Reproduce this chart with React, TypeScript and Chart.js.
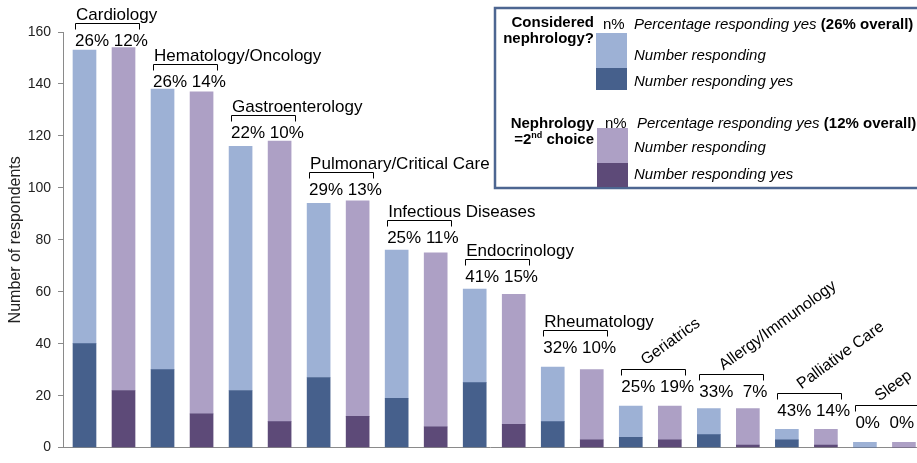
import React, { useEffect, useRef } from 'react';
import { Chart, registerables } from 'chart.js';

Chart.register(...registerables);

// ---- data ----
const specialties = [
  'Cardiology',
  'Hematology/Oncology',
  'Gastroenterology',
  'Pulmonary/Critical Care',
  'Infectious Diseases',
  'Endocrinology',
  'Rheumatology',
  'Geriatrics',
  'Allergy/Immunology',
  'Palliative Care',
  'Sleep',
];
const consideredTotal = [153, 138, 116, 94, 76, 61, 31, 16, 15, 7, 2];
const consideredYes = [40, 30, 22, 27, 19, 25, 10, 4, 5, 3, 0];
const secondTotal = [154, 137, 118, 95, 75, 59, 30, 16, 15, 7, 2];
const secondYes = [22, 13, 10, 12, 8, 9, 3, 3, 1, 1, 0];
const consideredPct = ['26%', '26%', '22%', '29%', '25%', '41%', '32%', '25%', '33%', '43%', '0%'];
const secondPct = ['12%', '14%', '10%', '13%', '11%', '15%', '10%', '19%', '7%', '14%', '0%'];
// value (in respondents) at which each group's percentage line sits
const pctLevel = [154.7, 138.8, 119.1, 97.1, 78.8, 63.7, 36.6, 21.4, 19.5, 12.1, 7.5];
const rotatedLabel = [false, false, false, false, false, false, false, true, true, true, true];
const yTicks = [0, 20, 40, 60, 80, 100, 120, 140, 160];

const FONT = "'Liberation Sans', Arial, sans-serif";
const LIGHT_BLUE = '#9db1d5';
const DARK_BLUE = '#46608c';
const LIGHT_PURPLE = '#ada0c5';
const DARK_PURPLE = '#5d4a78';
const AXIS = '#8a8a8a';

const groupLabels = {
  id: 'groupLabels',
  afterDatasetsDraw(chart: any) {
    const { ctx } = chart;
    const y = chart.scales.y;
    const meta = chart.getDatasetMeta(1);
    ctx.save();
    ctx.fillStyle = '#000';
    ctx.strokeStyle = '#000';
    ctx.lineWidth = 1;
    ctx.textAlign = 'left';
    ctx.textBaseline = 'alphabetic';
    specialties.forEach((name, i) => {
      const bar = meta.data[i];
      const left = bar.x - bar.width / 2;
      const base = y.getPixelForValue(pctLevel[i]);
      ctx.font = `17px ${FONT}`;
      const sep = secondPct[i].length < 3 ? '  ' : ' ';
      ctx.fillText(consideredPct[i] + sep + secondPct[i], left + 2, base);
      const bTop = Math.round(base - 23) + 0.5;
      const bl = Math.round(left + 2) + 0.5;
      const br = bl + 64;
      ctx.beginPath();
      ctx.moveTo(bl, bTop + 6);
      ctx.lineTo(bl, bTop);
      ctx.lineTo(br, bTop);
      ctx.lineTo(br, bTop + 6);
      ctx.stroke();
      if (rotatedLabel[i]) {
        ctx.save();
        ctx.translate(bl + 24, bTop - 4);
        ctx.rotate((-36 * Math.PI) / 180);
        ctx.font = `16px ${FONT}`;
        ctx.fillText(name, 0, 0);
        ctx.restore();
      } else {
        ctx.fillText(name, left + 3, base - 26);
      }
    });
    ctx.restore();
  },
};

const legendBox = {
  id: 'legendBox',
  afterDraw(chart: any) {
    const { ctx } = chart;
    ctx.save();
    ctx.fillStyle = '#fff';
    ctx.fillRect(495, 8, 450, 180);
    ctx.strokeStyle = '#4d6691';
    ctx.lineWidth = 2.5;
    ctx.strokeRect(495, 8, 450, 180);

    ctx.textBaseline = 'alphabetic';
    ctx.fillStyle = '#000';
    const bold = `bold 15px ${FONT}`;
    const reg = `15px ${FONT}`;
    const ital = `italic 15px ${FONT}`;

    // group 1
    ctx.textAlign = 'right';
    ctx.font = bold;
    ctx.fillText('Considered', 594, 27);
    ctx.fillText('nephrology?', 594, 43);
    ctx.textAlign = 'left';
    ctx.font = reg;
    ctx.fillText('n%', 603, 29);
    ctx.font = ital;
    const p1 = 'Percentage responding yes ';
    ctx.fillText(p1, 634, 29);
    let w = ctx.measureText(p1).width;
    ctx.font = bold;
    ctx.fillText('(26% overall)', 634 + w, 29);
    ctx.font = ital;
    ctx.fillText('Number responding', 634, 60);
    ctx.fillText('Number responding yes', 634, 86);
    ctx.fillStyle = LIGHT_BLUE;
    ctx.fillRect(596, 33, 31, 35);
    ctx.fillStyle = DARK_BLUE;
    ctx.fillRect(596, 68, 31, 22);

    // group 2
    ctx.fillStyle = '#000';
    ctx.textAlign = 'right';
    ctx.font = bold;
    ctx.fillText('Nephrology', 594, 128);
    // "=2nd choice" with superscript
    const a = '=2';
    const sup = 'nd';
    const c = ' choice';
    ctx.font = bold;
    const wa = ctx.measureText(a).width;
    const wc = ctx.measureText(c).width;
    ctx.font = `bold 9px ${FONT}`;
    const ws = ctx.measureText(sup).width;
    const start = 594 - (wa + ws + wc);
    ctx.textAlign = 'left';
    ctx.font = bold;
    ctx.fillText(a, start, 144);
    ctx.font = `bold 9px ${FONT}`;
    ctx.fillText(sup, start + wa, 138);
    ctx.font = bold;
    ctx.fillText(c, start + wa + ws, 144);

    ctx.font = reg;
    ctx.fillText('n%', 605, 128);
    ctx.font = ital;
    ctx.fillText(p1, 637, 128);
    w = ctx.measureText(p1).width;
    ctx.font = bold;
    ctx.fillText('(12% overall)', 637 + w, 128);
    ctx.font = ital;
    ctx.fillText('Number responding', 634, 152);
    ctx.fillText('Number responding yes', 634, 179);
    ctx.fillStyle = LIGHT_PURPLE;
    ctx.fillRect(597, 128, 31, 35);
    ctx.fillStyle = DARK_PURPLE;
    ctx.fillRect(597, 163, 31, 24);
    ctx.restore();
  },
};

export default function App() {
  const ref = useRef<HTMLCanvasElement>(null);

  useEffect(() => {
    const canvas = ref.current;
    if (!canvas) return;
    const datasets = [
      {
        label: 'Considered nephrology: yes',
        data: consideredYes.map((v, i) => ({ x: 2 * i, y: v })),
        backgroundColor: DARK_BLUE,
        stack: 's',
      },
      {
        label: 'Considered nephrology: number responding',
        data: consideredTotal.map((v, i) => ({ x: 2 * i, y: v - consideredYes[i] })),
        backgroundColor: LIGHT_BLUE,
        stack: 's',
      },
      {
        label: 'Nephrology 2nd choice: yes',
        data: secondYes.map((v, i) => ({ x: 2 * i + 1, y: v })),
        backgroundColor: DARK_PURPLE,
        stack: 's',
      },
      {
        label: 'Nephrology 2nd choice: number responding',
        data: secondTotal.map((v, i) => ({ x: 2 * i + 1, y: v - secondYes[i] })),
        backgroundColor: LIGHT_PURPLE,
        stack: 's',
      },
    ];
    const chart = new Chart(canvas, {
      type: 'bar',
      data: { datasets } as any,
      options: {
        animation: false,
        responsive: false,
        layout: { padding: { top: 32, bottom: 8, left: 0, right: 0 } },
        datasets: { bar: { barThickness: 23 } } as any,
        plugins: {
          legend: { display: false },
          tooltip: { enabled: false },
        },
        scales: {
          x: {
            type: 'linear',
            min: -0.551,
            max: 21.335,
            offset: false,
            stacked: true,
            grid: { display: false },
            ticks: { display: false },
            border: { display: true, color: AXIS, width: 1 },
            afterFit: (s: any) => {
              s.height = 0;
            },
          },
          y: {
            type: 'linear',
            min: 0,
            max: 160,
            stacked: true,
            afterBuildTicks: (s: any) => {
              s.ticks = yTicks.map((v) => ({ value: v }));
            },
            grid: {
              display: true,
              drawOnChartArea: false,
              drawTicks: true,
              tickLength: 5,
              color: AXIS,
            },
            border: { display: true, color: AXIS, width: 1 },
            ticks: {
              padding: 7,
              color: '#222',
              font: { family: FONT, size: 14 },
            },
            title: {
              display: true,
              text: 'Number of respondents',
              color: '#222',
              font: { family: FONT, size: 16 },
              padding: { top: 6, bottom: 0 },
            },
            afterFit: (s: any) => {
              s.width = 63;
            },
          },
        },
      } as any,
      plugins: [groupLabels, legendBox],
    });
    return () => chart.destroy();
  }, []);

  return (
    <div style={{ position: 'absolute', left: 0, top: 0, width: 917, height: 463, overflow: 'hidden', background: '#fff' }}>
      <canvas ref={ref} width={917} height={463} style={{ width: 917, height: 463, display: 'block' }} />
    </div>
  );
}
